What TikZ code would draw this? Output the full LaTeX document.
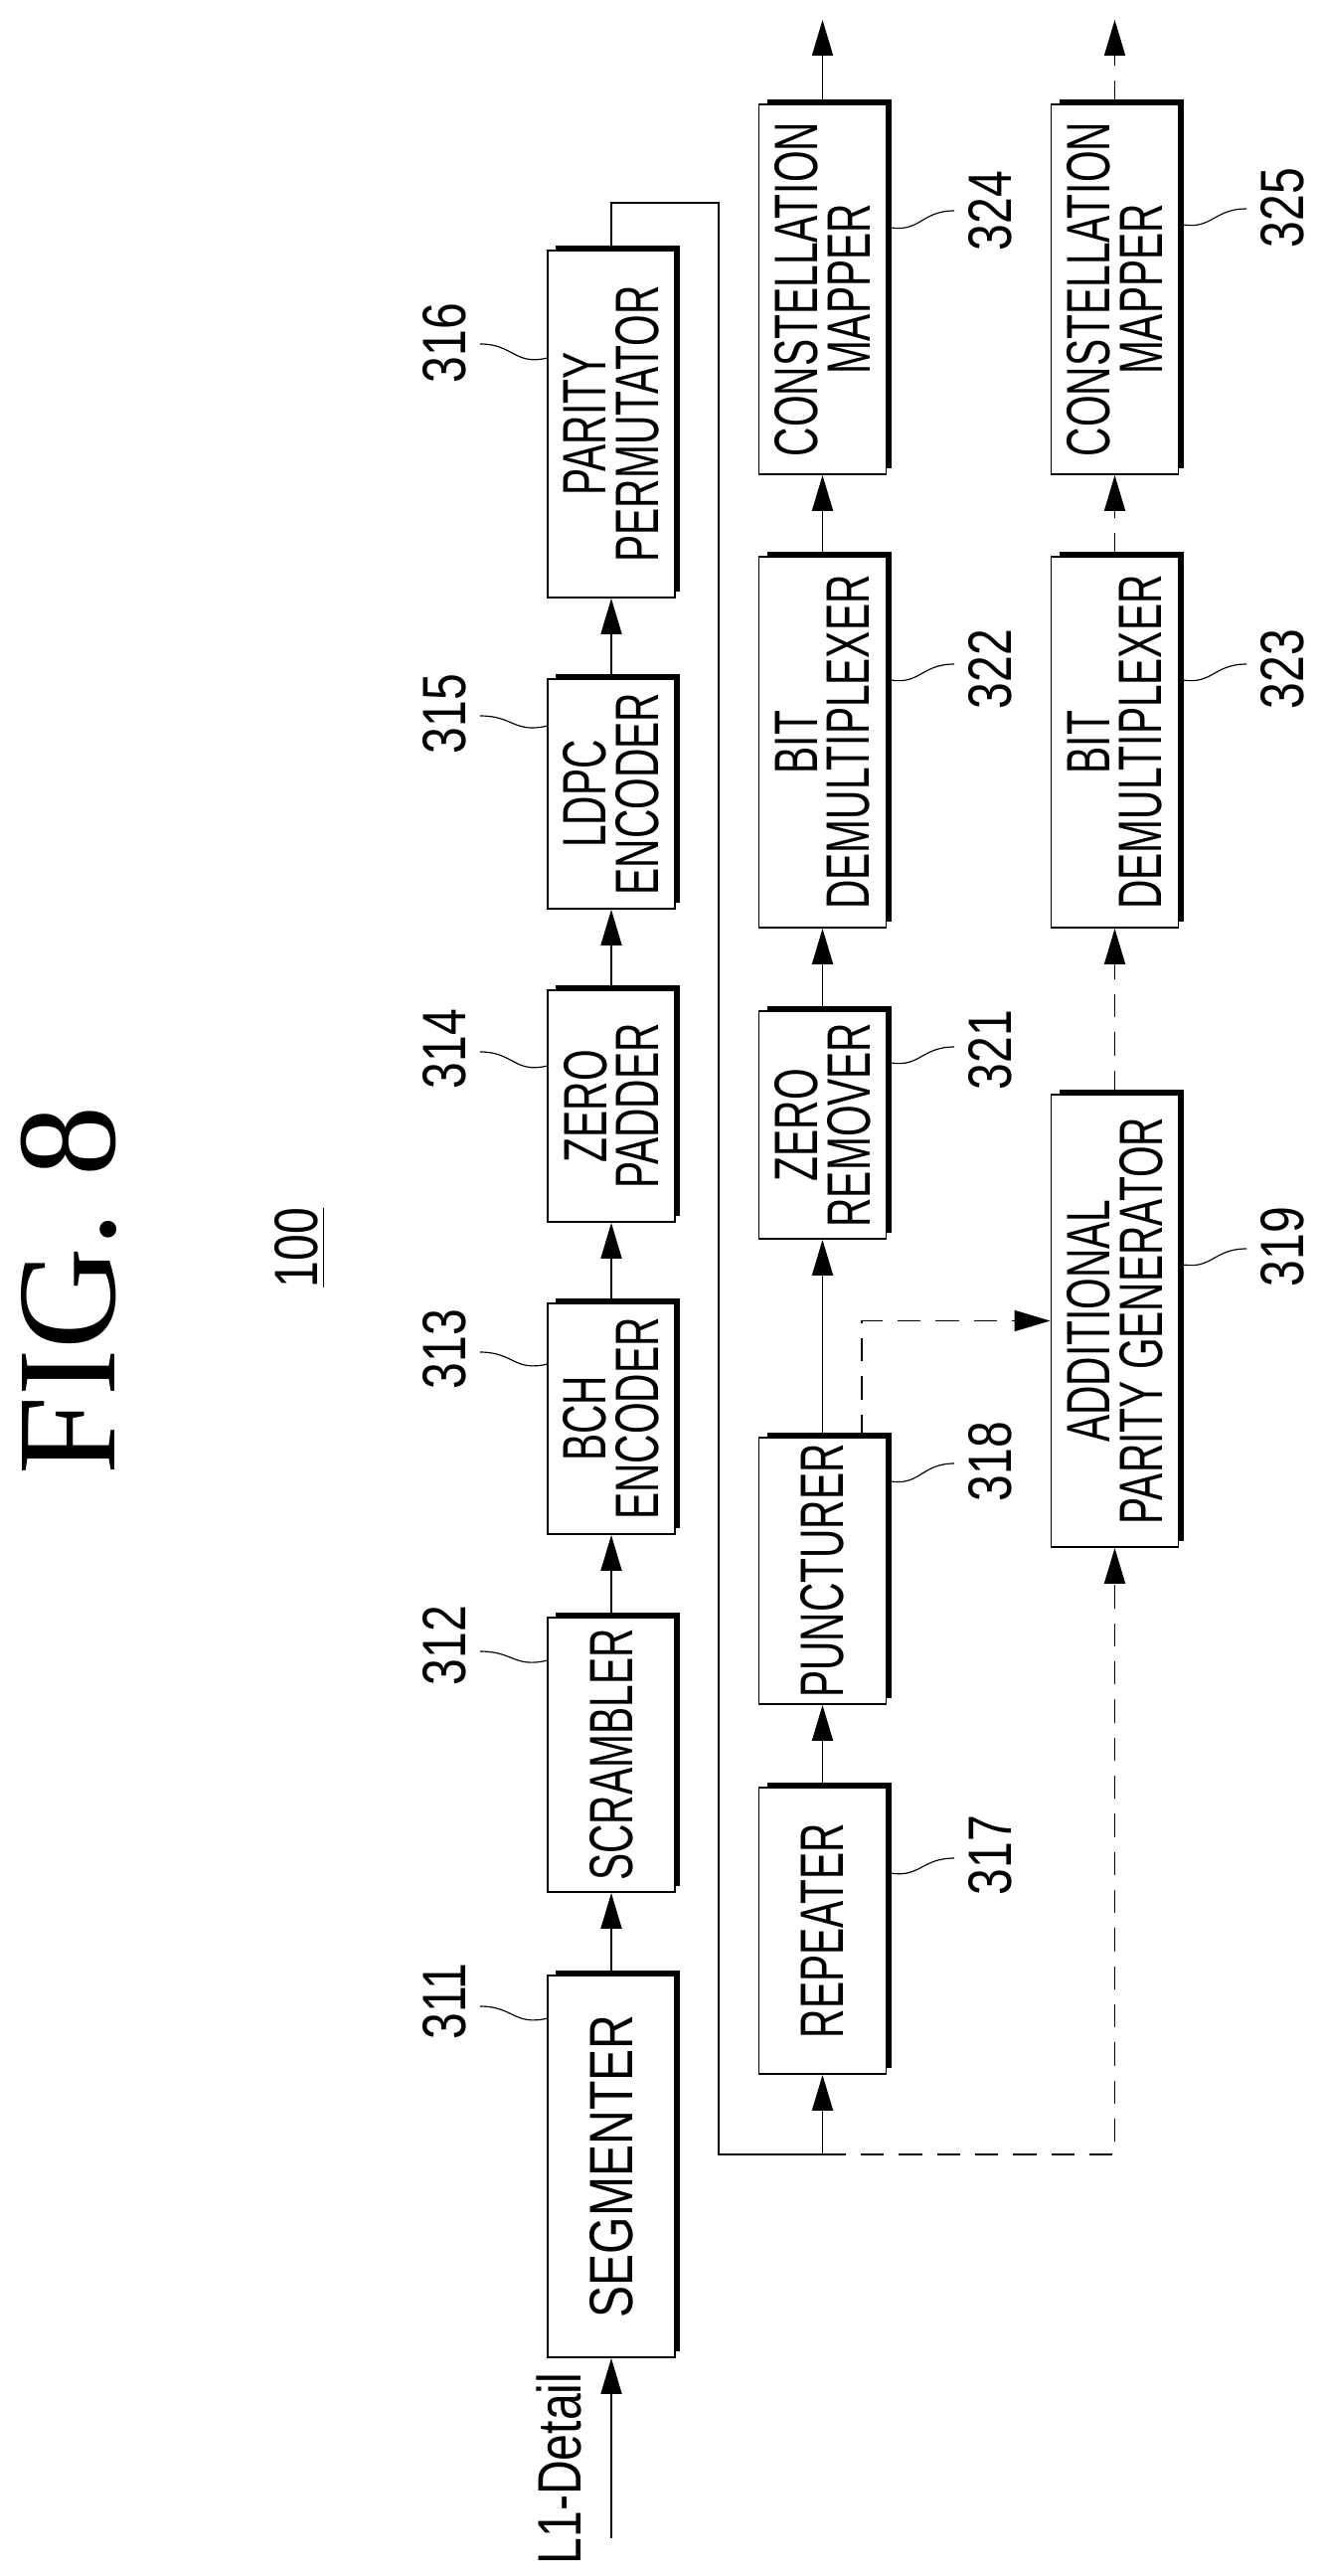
\documentclass[tikz,border=0pt]{standalone}
\usepackage{fontspec}
\setmainfont{Liberation Sans}
\newfontfamily\bxf{Liberation Sans}[FakeStretch=0.66]
\newfontfamily\lbf{Liberation Sans}[FakeStretch=0.78]
\newfontfamily\serf{Liberation Serif}
\usetikzlibrary{arrows.meta}
\tikzset{
  box/.style={draw,line width=0.55pt,rotate=90,inner sep=0pt,align=center,
    minimum height=38.4pt,font=\bxf\fontsize{18.5pt}{15.8pt}\selectfont},
  shad/.style={line width=1.35pt},
  conn/.style={line width=0.55pt},
  arr/.style={conn,-{Triangle[length=10.8pt,width=6.3pt]}},
  dsh/.style={dash pattern=on 7pt off 4.5pt},
  lead/.style={line width=0.35pt},
  lab/.style={rotate=90,font=\lbf\fontsize{18.5pt}{18.5pt}\selectfont,inner sep=0pt}
}
% \blk{name}{cx}{ytop}{ybot}{text}
\newcommand\blk[5]{%
  \node[box,minimum width={(#4-#3)*0.3pt}] (#1) at (#2,{(#3+#4)/2}) {#5};
  \draw[shad] ({#2-56},{#3-3}) -- ({#2+67},{#3-3}) -- ({#2+67},{#4-6});}
% \ldr{x1}{y1}{x2}{y2}
\newcommand\ldr[4]{\draw[lead] (#1,#2) .. controls ({(#1+#3)/2},{#2+8}) and ({(#1+#3)/2},{#4}) .. (#3,#4);}
\begin{document}
\begin{tikzpicture}[x=0.3pt,y=-0.3pt]
\useasboundingbox (0,0) rectangle (1330,2591);
% column 1
\blk{pp}{615}{252}{601}{PARITY\\PERMUTATOR}
\blk{ldpc}{615}{683}{914}{LDPC\\ENCODER}
\blk{zp}{615}{996}{1229}{ZERO\\PADDER}
\blk{bch}{615}{1311}{1543}{BCH\\ENCODER}
\blk{scr}{615}{1627}{1903}{SCRAMBLER}
\blk{seg}{615}{1987}{2371}{{\lbf SEGMENTER}}
% column 2
\blk{cm1}{827.5}{105}{477}{CONSTELLATION\\MAPPER}
\blk{bd1}{827.5}{560}{933}{BIT\\DEMULTIPLEXER}
\blk{zr}{827.5}{1017}{1246}{ZERO\\REMOVER}
\blk{pun}{827.5}{1446}{1714}{PUNCTURER}
\blk{rep}{827.5}{1798}{2086}{REPEATER}
% column 3
\blk{cm2}{1121.5}{105}{477}{CONSTELLATION\\MAPPER}
\blk{bd2}{1121.5}{560}{933}{BIT\\DEMULTIPLEXER}
\blk{apg}{1121.5}{1101}{1556}{ADDITIONAL\\PARITY GENERATOR}
% title
\node[rotate=90,font=\serf\fontsize{42.6pt}{42.6pt}\selectfont,inner sep=0pt] (title) at (69,1298) {FIG. 8};
\node[lab] (ref100) at (302,1255) {\underline{100}};
% connectors column 1
\coordinate (in) at (615,2553);
\node[lab] (l1) at (562,2483) {L1-Detail};
\draw[arr] (in) -- (seg.west);
\draw[arr] (seg.east) -- (scr.west);
\draw[arr] (scr.east) -- (bch.west);
\draw[arr] (bch.east) -- (zp.west);
\draw[arr] (zp.east) -- (ldpc.west);
\draw[arr] (ldpc.east) -- (pp.west);
\coordinate (c1) at (723,204);
\coordinate (fb) at (827.5,2167);
\draw[conn] (pp.east) |- (c1) |- (fb);
\draw[arr] (fb) -- (rep.west);
\draw[arr,dsh] (fb) -| (apg.west);
% column 2
\draw[arr] (rep.east) -- (pun.west);
\draw[arr] (pun.east) -- (zr.west);
\draw[arr] (zr.east) -- (bd1.west);
\draw[arr] (bd1.east) -- (cm1.west);
\coordinate (o1) at (827.5,20);
\draw[arr] (cm1.east) -- (o1);
\coordinate (pd) at (867,1446);
\draw[arr,dsh] (pd) |- (apg.north);
% column 3
\draw[arr,dsh] (apg.east) -- (bd2.west);
\draw[arr,dsh] (bd2.east) -- (cm2.west);
\coordinate (o2) at (1121.5,20);
\draw[arr,dsh] (cm2.east) -- (o2);
% labels and leaders
\ldr{551}{360}{483}{346}   \node[lab] (n316) at (447,345) {316};
\ldr{551}{730}{483}{720}   \node[lab] (n315) at (447,718) {315};
\ldr{551}{1072}{483}{1058} \node[lab] (n314) at (447,1055) {314};
\ldr{551}{1372}{483}{1360} \node[lab] (n313) at (447,1357) {313};
\ldr{551}{1670}{483}{1661} \node[lab] (n312) at (447,1655) {312};
\ldr{551}{2030}{483}{2018} \node[lab] (n311) at (447,2013) {311};
\ldr{891}{228}{960}{212}   \node[lab] (n324) at (996,212) {324};
\ldr{891}{683}{960}{668}   \node[lab] (n322) at (996,673) {322};
\ldr{891}{1068}{960}{1053} \node[lab] (n321) at (996,1056) {321};
\ldr{891}{1489}{960}{1472} \node[lab] (n318) at (996,1470) {318};
\ldr{891}{1883}{960}{1869} \node[lab] (n317) at (996,1866) {317};
\ldr{1185}{225}{1254}{210}   \node[lab] (n325) at (1290,209) {325};
\ldr{1185}{683}{1254}{668}   \node[lab] (n323) at (1290,673) {323};
\ldr{1185}{1271}{1254}{1256} \node[lab] (n319) at (1290,1254) {319};
\end{tikzpicture}
\end{document}
